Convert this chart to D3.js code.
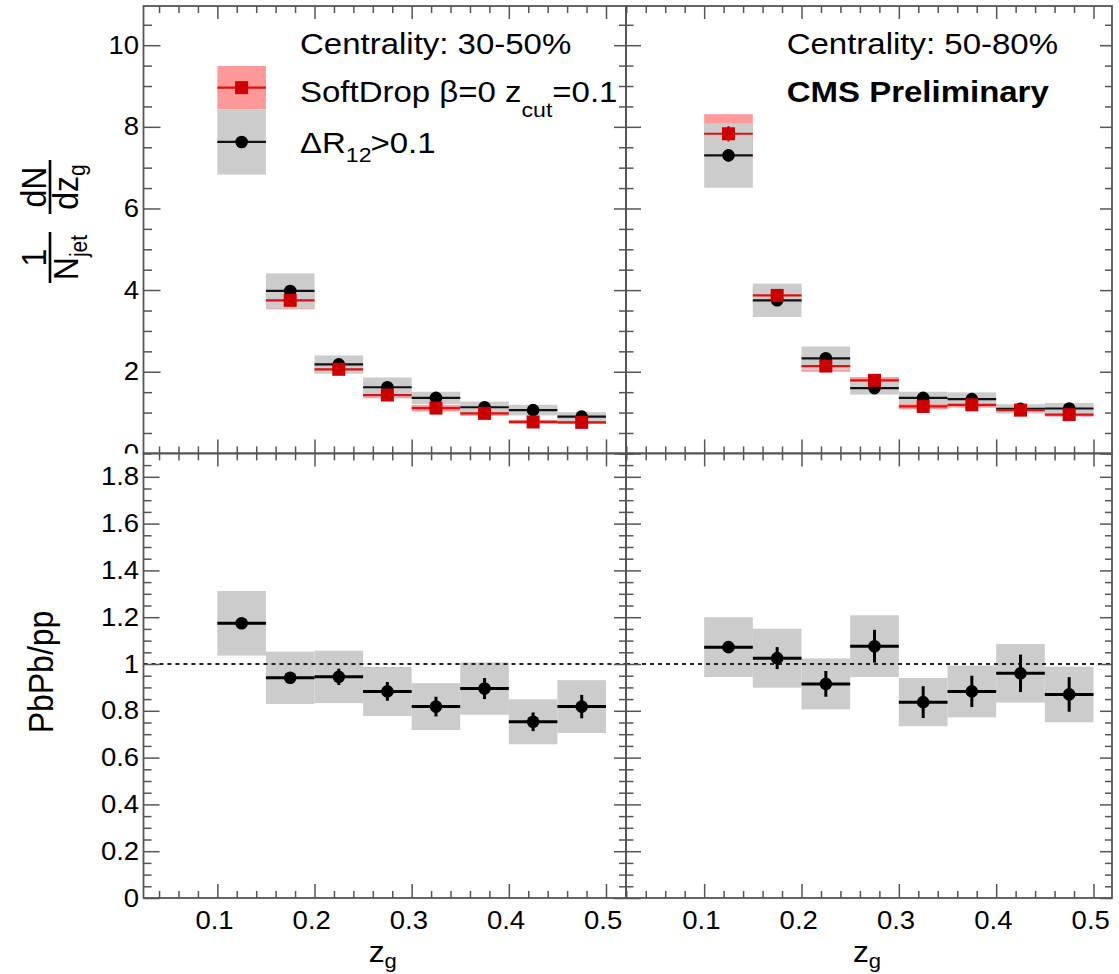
<!DOCTYPE html>
<html>
<head>
<meta charset="utf-8">
<script src="https://cdn.jsdelivr.net/npm/d3@7"></script>
<style>
body { margin: 0; background: #fff; }
svg text { font-family: "Liberation Sans", Arial, Helvetica, sans-serif; fill: #000; }
</style>
</head>
<body>
<svg id="chart" width="1119" height="974"></svg>
<script>
// z_g bins
var zgLow = [0.10, 0.15, 0.20, 0.25, 0.30, 0.35, 0.40, 0.45];
var zgHigh = [0.15, 0.20, 0.25, 0.30, 0.35, 0.40, 0.45, 0.50];

// centrality 30-50%, 1/N dN/dzg
var sd3050 = [8.96, 3.75, 2.06, 1.43, 1.11, 0.98, 0.77, 0.76];
var sd3050Stat = [0.08, 0.06, 0.04, 0.03, 0.03, 0.03, 0.03, 0.03];
var sd3050Sys = [0.53, 0.22, 0.10, 0.08, 0.08, 0.06, 0.05, 0.04];
var dr3050 = [7.63, 3.98, 2.18, 1.62, 1.36, 1.13, 1.06, 0.90];
var dr3050Stat = [0.10, 0.06, 0.04, 0.03, 0.03, 0.03, 0.03, 0.03];
var dr3050Sys = [0.80, 0.43, 0.22, 0.24, 0.15, 0.14, 0.13, 0.11];

// centrality 50-80%
var sd5080 = [7.83, 3.87, 2.14, 1.79, 1.15, 1.19, 1.06, 0.95];
var sd5080Stat = [0.19, 0.08, 0.05, 0.04, 0.04, 0.04, 0.03, 0.03];
var sd5080Sys = [0.48, 0.20, 0.14, 0.08, 0.07, 0.07, 0.06, 0.05];
var dr5080 = [7.30, 3.75, 2.33, 1.60, 1.36, 1.33, 1.09, 1.10];
var dr5080Stat = [0.15, 0.07, 0.05, 0.04, 0.04, 0.04, 0.03, 0.03];
var dr5080Sys = [0.79, 0.41, 0.29, 0.16, 0.15, 0.165, 0.115, 0.135];

// PbPb/pp ratios
var ratio3050 = [1.174, 0.941, 0.945, 0.883, 0.818, 0.895, 0.753, 0.818];
var ratio3050Stat = [0.02, 0.02, 0.035, 0.04, 0.042, 0.045, 0.04, 0.05];
var ratio3050Sys = [0.138, 0.112, 0.112, 0.105, 0.10, 0.112, 0.096, 0.113];
var ratio5080 = [1.072, 1.025, 0.915, 1.076, 0.837, 0.883, 0.96, 0.87];
var ratio5080Stat = [0.02, 0.047, 0.055, 0.07, 0.068, 0.067, 0.08, 0.074];
var ratio5080Sys = [0.128, 0.126, 0.109, 0.132, 0.103, 0.111, 0.125, 0.119];

var centralityLabels = ["Centrality: 30-50%", "Centrality: 50-80%"];
var xTickValues = [0.1, 0.2, 0.3, 0.4, 0.5];
var yTickValuesTop = [0, 2, 4, 6, 8, 10];
var yTickValuesRatio = [0, 0.2, 0.4, 0.6, 0.8, 1, 1.2, 1.4, 1.6, 1.8];

var sx = 1.1; // text in the picture is a bit wide
var frameColor = "#555";
var redFill = "#ff9999", redLine = "#dd1111", redMarker = "#cc0000", grayFill = "#cccccc";

var svg = d3.select("#chart");
svg.append("rect").attr("width", 1119).attr("height", 974).attr("fill", "#fff");

// clip in the axis group's own coordinates (group is shifted by the frame x)
svg.append("defs").append("clipPath").attr("id", "clipTop")
    .append("rect").attr("x", -200).attr("y", 0).attr("width", 1400).attr("height", 453.4);

var xLeft = d3.scaleLinear().domain([0.024, 0.5206]).range([143.5, 626]);
var xRight = d3.scaleLinear().domain([0.0197, 0.519]).range([626, 1112]);
var yTop = d3.scaleLinear().domain([0, 10.96]).range([453.4, 6]);
var yRatio = d3.scaleLinear().domain([0, 1.9]).range([898, 453.4]);

var bins = zgLow.map(function (d, i) { return { lo: d, hi: zgHigh[i], i: i }; });

function stretchText(parent, x, y, size, anchor) {
    return parent.append("text")
        .attr("transform", "translate(" + x + "," + y + ") scale(" + sx + ",1)")
        .attr("font-size", size)
        .attr("text-anchor", anchor || "start");
}

function styleTicks(sel, size) {
    sel.attr("font-size", null).attr("font-family", null);
    sel.select(".domain").remove();
    sel.selectAll(".tick line").attr("stroke", frameColor).attr("stroke-width", 1.5);
    sel.selectAll(".tick text").attr("font-size", size).attr("fill", "#000")
        .attr("transform", "scale(" + sx + ",1)");
}

function minorRange(lo, hi, step, majorStep) {
    var out = [];
    for (var k = Math.ceil(lo / step - 1e-6); k * step <= hi + 1e-9; k++) {
        var v = +(k * step).toFixed(4);
        if (Math.abs(v / majorStep - Math.round(v / majorStep)) > 1e-6) out.push(v);
    }
    return out;
}

function drawAxes(x, y, yTicks, yMajorStep, yMinorStep, yFmt, showYLabels, showXLabels, leftTick, clip) {
    var x0 = x.range()[0], x1 = x.range()[1];
    var y0 = y.range()[1], y1 = y.range()[0];
    var xd = x.domain(), yd = y.domain();
    var xMinor = minorRange(xd[0], xd[1], 0.02, 0.1);
    var yMinor = minorRange(yd[0], yd[1], yMinorStep, yMajorStep);

    // bottom
    var gb = svg.append("g").attr("transform", "translate(0," + y1 + ")")
        .call(d3.axisBottom(x).tickValues(xTickValues).tickSize(-14).tickPadding(13)
            .tickFormat(showXLabels ? d3.format(".1f") : ""));
    styleTicks(gb, 25);
    gb.selectAll(".tick text").attr("dx", -3);
    styleTicks(svg.append("g").attr("transform", "translate(0," + y1 + ")")
        .call(d3.axisBottom(x).tickValues(xMinor).tickSize(-7).tickFormat("")), 0);

    // top
    styleTicks(svg.append("g").attr("transform", "translate(0," + y0 + ")")
        .call(d3.axisTop(x).tickValues(xTickValues).tickSize(-13).tickFormat("")), 0);
    styleTicks(svg.append("g").attr("transform", "translate(0," + y0 + ")")
        .call(d3.axisTop(x).tickValues(xMinor).tickSize(-7).tickFormat("")), 0);

    // left
    var gl = svg.append("g").attr("transform", "translate(" + x0 + ",0)")
        .call(d3.axisLeft(y).tickValues(yTicks).tickSize(-leftTick).tickPadding(4)
            .tickFormat(showYLabels ? yFmt : ""));
    if (clip) gl.attr("clip-path", "url(#clipTop)");
    styleTicks(gl, 25);
    styleTicks(svg.append("g").attr("transform", "translate(" + x0 + ",0)")
        .call(d3.axisLeft(y).tickValues(yMinor).tickSize(-leftTick / 2).tickFormat("")), 0);

    // right
    styleTicks(svg.append("g").attr("transform", "translate(" + x1 + ",0)")
        .call(d3.axisRight(y).tickValues(yTicks).tickSize(-12).tickFormat("")), 0);
    styleTicks(svg.append("g").attr("transform", "translate(" + x1 + ",0)")
        .call(d3.axisRight(y).tickValues(yMinor).tickSize(-7).tickFormat("")), 0);

    svg.append("rect")
        .attr("x", x0).attr("y", y0).attr("width", x1 - x0).attr("height", y1 - y0)
        .attr("fill", "none").attr("stroke", frameColor).attr("stroke-width", 1.8);
}

function drawSeries(g, x, y, vals, stat, sys, boxFill, lineColor, lineWidth, marker, markerColor, drawBoxes) {
    if (drawBoxes) {
        g.append("g").selectAll("rect")
            .data(bins)
            .enter()
            .append("rect")
            .attr("x", function (d) { return x(d.lo); })
            .attr("width", function (d) { return x(d.hi) - x(d.lo); })
            .attr("y", function (d) { return y(vals[d.i] + sys[d.i]); })
            .attr("height", function (d) { return y(vals[d.i] - sys[d.i]) - y(vals[d.i] + sys[d.i]); })
            .attr("fill", boxFill);
        return;
    }
    g.append("g").selectAll("line")
        .data(bins)
        .enter()
        .append("line")
        .attr("x1", function (d) { return x(d.lo); })
        .attr("x2", function (d) { return x(d.hi); })
        .attr("y1", function (d) { return y(vals[d.i]); })
        .attr("y2", function (d) { return y(vals[d.i]); })
        .attr("stroke", lineColor).attr("stroke-width", lineWidth);

    g.append("g").selectAll("line")
        .data(bins)
        .enter()
        .append("line")
        .attr("x1", function (d) { return x((d.lo + d.hi) / 2); })
        .attr("x2", function (d) { return x((d.lo + d.hi) / 2); })
        .attr("y1", function (d) { return y(vals[d.i] + stat[d.i]); })
        .attr("y2", function (d) { return y(vals[d.i] - stat[d.i]); })
        .attr("stroke", lineColor).attr("stroke-width", lineWidth);

    if (marker === "square") {
        g.append("g").selectAll("rect")
            .data(bins)
            .enter()
            .append("rect")
            .attr("x", function (d) { return x((d.lo + d.hi) / 2) - 6.5; })
            .attr("y", function (d) { return y(vals[d.i]) - 6.5; })
            .attr("width", 13).attr("height", 13)
            .attr("fill", markerColor);
    } else {
        g.append("g").selectAll("circle")
            .data(bins)
            .enter()
            .append("circle")
            .attr("cx", function (d) { return x((d.lo + d.hi) / 2); })
            .attr("cy", function (d) { return y(vals[d.i]); })
            .attr("r", 6.3)
            .attr("fill", markerColor);
    }
}

function drawTopPanel(x, sd, sdStat, sdSys, dr, drStat, drSys) {
    var g = svg.append("g");
    drawSeries(g, x, yTop, sd, sdStat, sdSys, redFill, null, 0, null, null, true);
    drawSeries(g, x, yTop, dr, drStat, drSys, grayFill, null, 0, null, null, true);
    drawSeries(g, x, yTop, dr, drStat, drSys, null, "#111", 2.2, "circle", "#000", false);
    drawSeries(g, x, yTop, sd, sdStat, sdSys, null, redLine, 2.2, "square", redMarker, false);
}

function drawRatioPanel(x, r, rStat, rSys) {
    var g = svg.append("g");
    drawSeries(g, x, yRatio, r, rStat, rSys, grayFill, null, 0, null, null, true);
    g.append("line")
        .attr("x1", x.range()[0]).attr("x2", x.range()[1])
        .attr("y1", yRatio(1)).attr("y2", yRatio(1))
        .attr("stroke", "#222").attr("stroke-width", 1.8).attr("stroke-dasharray", "4,4");
    drawSeries(g, x, yRatio, r, rStat, rSys, null, "#000", 3, "circle", "#000", false);
}

drawTopPanel(xLeft, sd3050, sd3050Stat, sd3050Sys, dr3050, dr3050Stat, dr3050Sys);
drawTopPanel(xRight, sd5080, sd5080Stat, sd5080Sys, dr5080, dr5080Stat, dr5080Sys);
drawRatioPanel(xLeft, ratio3050, ratio3050Stat, ratio3050Sys);
drawRatioPanel(xRight, ratio5080, ratio5080Stat, ratio5080Sys);

var fmtTop = d3.format("d"), fmtRatio = d3.format("~g");
drawAxes(xLeft, yTop, yTickValuesTop, 2, 0.5, fmtTop, true, false, 17, true);
drawAxes(xRight, yTop, yTickValuesTop, 2, 0.5, fmtTop, false, false, 15, false);
drawAxes(xLeft, yRatio, yTickValuesRatio, 0.2, 0.05, fmtRatio, true, true, 16, false);
drawAxes(xRight, yRatio, yTickValuesRatio, 0.2, 0.05, fmtRatio, false, true, 15, false);

// labels inside the top panels
stretchText(svg, 300, 54, 30).text(centralityLabels[0]);
stretchText(svg, 786.7, 54, 30).text(centralityLabels[1]);

var t1 = stretchText(svg, 300, 101.7, 30);
t1.append("tspan").text("SoftDrop \u03b2=0 z");
t1.append("tspan").attr("font-size", 21).attr("dy", 15).text("cut");
t1.append("tspan").attr("font-size", 30).attr("dy", -15).text("=0.1");

var t2 = stretchText(svg, 300, 153, 30);
t2.append("tspan").text("\u0394R");
t2.append("tspan").attr("font-size", 21).attr("dy", 9).text("12");
t2.append("tspan").attr("font-size", 30).attr("dy", -9).attr("dx", -1).text(">0.1");

stretchText(svg, 786.7, 101.7, 30).attr("font-weight", "bold").text("CMS Preliminary");

// x titles
[xLeft, xRight].forEach(function (x) {
    var cx = (x.range()[0] + x.range()[1]) / 2 - 2;
    var t = stretchText(svg, cx, 962, 29, "middle");
    t.append("tspan").text("z");
    t.append("tspan").attr("font-size", 20).attr("dy", 6).text("g");
});

// y title of the ratio panels
svg.append("text")
    .attr("transform", "translate(53,672) rotate(-90) scale(1," + sx + ")")
    .attr("font-size", 32)
    .attr("text-anchor", "middle")
    .text("PbPb/pp");

// y title of the top panels: 1/N_jet dN/dz_g
var yt = svg.append("g").attr("transform", "translate(50,300) rotate(-90) scale(1," + sx + ")");
yt.append("line").attr("x1", 17).attr("x2", 68).attr("y1", 0).attr("y2", 0)
    .attr("stroke", "#000").attr("stroke-width", 2.4);
yt.append("line").attr("x1", 86).attr("x2", 140).attr("y1", 0).attr("y2", 0)
    .attr("stroke", "#000").attr("stroke-width", 2.4);
yt.append("text").attr("x", 42.5).attr("y", -4).attr("font-size", 32).attr("text-anchor", "middle").text("1");
yt.append("text").attr("x", 113).attr("y", -4).attr("font-size", 32).attr("text-anchor", "middle").text("dN");
var nj = yt.append("text").attr("x", 42.5).attr("y", 25).attr("font-size", 32).attr("text-anchor", "middle");
nj.append("tspan").text("N");
nj.append("tspan").attr("font-size", 21).attr("dy", 9).text("jet");
var dz = yt.append("text").attr("x", 113).attr("y", 25).attr("font-size", 32).attr("text-anchor", "middle");
dz.append("tspan").text("dz");
dz.append("tspan").attr("font-size", 21).attr("dy", 7).text("g");
</script>
</body>
</html>
